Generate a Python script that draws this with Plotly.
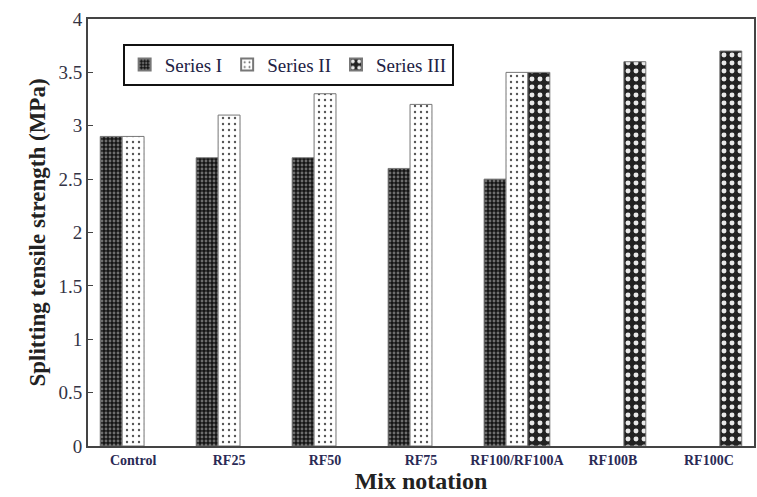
import plotly.graph_objects as go

# Mix designations and splitting tensile strength (MPa) for each series
mixes = ["Control", "RF25", "RF50", "RF75", "RF100/RF100A", "RF100B", "RF100C"]
series_i = [2.9, 2.7, 2.7, 2.6, 2.5, None, None]
series_ii = [2.9, 3.1, 3.3, 3.2, 3.5, None, None]
series_iii = [None, None, None, None, 3.5, 3.6, 3.7]
y_ticks = [0, 0.5, 1, 1.5, 2, 2.5, 3, 3.5, 4]
y_tick_text = ["0", "0.5", "1", "1.5", "2", "2.5", "3", "3.5", "4"]

SERIF = "Liberation Serif, Times New Roman, serif"

styles = [
    ("Series I", series_i, dict(shape=".", bgcolor="#151515", fgcolor="#6e6e6e", size=4, solidity=0.4)),
    ("Series II", series_ii, dict(shape=".", bgcolor="#ffffff", fgcolor="#555555", size=6, solidity=0.12)),
    ("Series III", series_iii, dict(shape=".", bgcolor="#222222", fgcolor="#e8e8e8", size=8, solidity=0.3)),
]

fig = go.Figure()
for name, vals, pat in styles:
    fig.add_trace(go.Bar(
        name=name, x=mixes, y=vals,
        marker=dict(color=pat["bgcolor"], pattern=dict(fillmode="replace", **pat),
                    line=dict(color="#777777", width=1)),
    ))

fig.update_layout(
    width=757, height=497,
    margin=dict(l=88, r=1, t=19, b=51),
    paper_bgcolor="white", plot_bgcolor="white",
    barmode="group", bargap=0.315, bargroupgap=0,
    font=dict(family=SERIF, color="#222222"),
    showlegend=True,
    legend=dict(
        orientation="h", x=0.052, y=0.942, xanchor="left", yanchor="top",
        bordercolor="#111111", borderwidth=2, bgcolor="white",
        font=dict(family=SERIF, size=19, color="#222244"),
        itemwidth=30, itemsizing="constant", tracegroupgap=0,
    ),
    xaxis=dict(
        type="category", range=[-0.47, 6.47],
        showline=True, linecolor="#444444", linewidth=2, mirror=True,
        ticks="", tickfont=dict(family=SERIF, size=14, color="#2a2a55", weight="bold"),
        title=dict(text="Mix notation", font=dict(family=SERIF, size=24, color="#222222", weight="bold"),
                   standoff=4),
        showgrid=False,
    ),
    yaxis=dict(
        range=[0, 4], tickvals=y_ticks, ticktext=y_tick_text,
        showline=True, linecolor="#444444", linewidth=2, mirror=True,
        ticks="inside", ticklen=5, tickcolor="#444444",
        tickfont=dict(family=SERIF, size=19, color="#333344"),
        title=dict(text="Splitting tensile strength (MPa)",
                   font=dict(family=SERIF, size=23, color="#222222", weight="bold"), standoff=6),
        showgrid=False, zeroline=False,
    ),
)

fig.write_html("out.html")
